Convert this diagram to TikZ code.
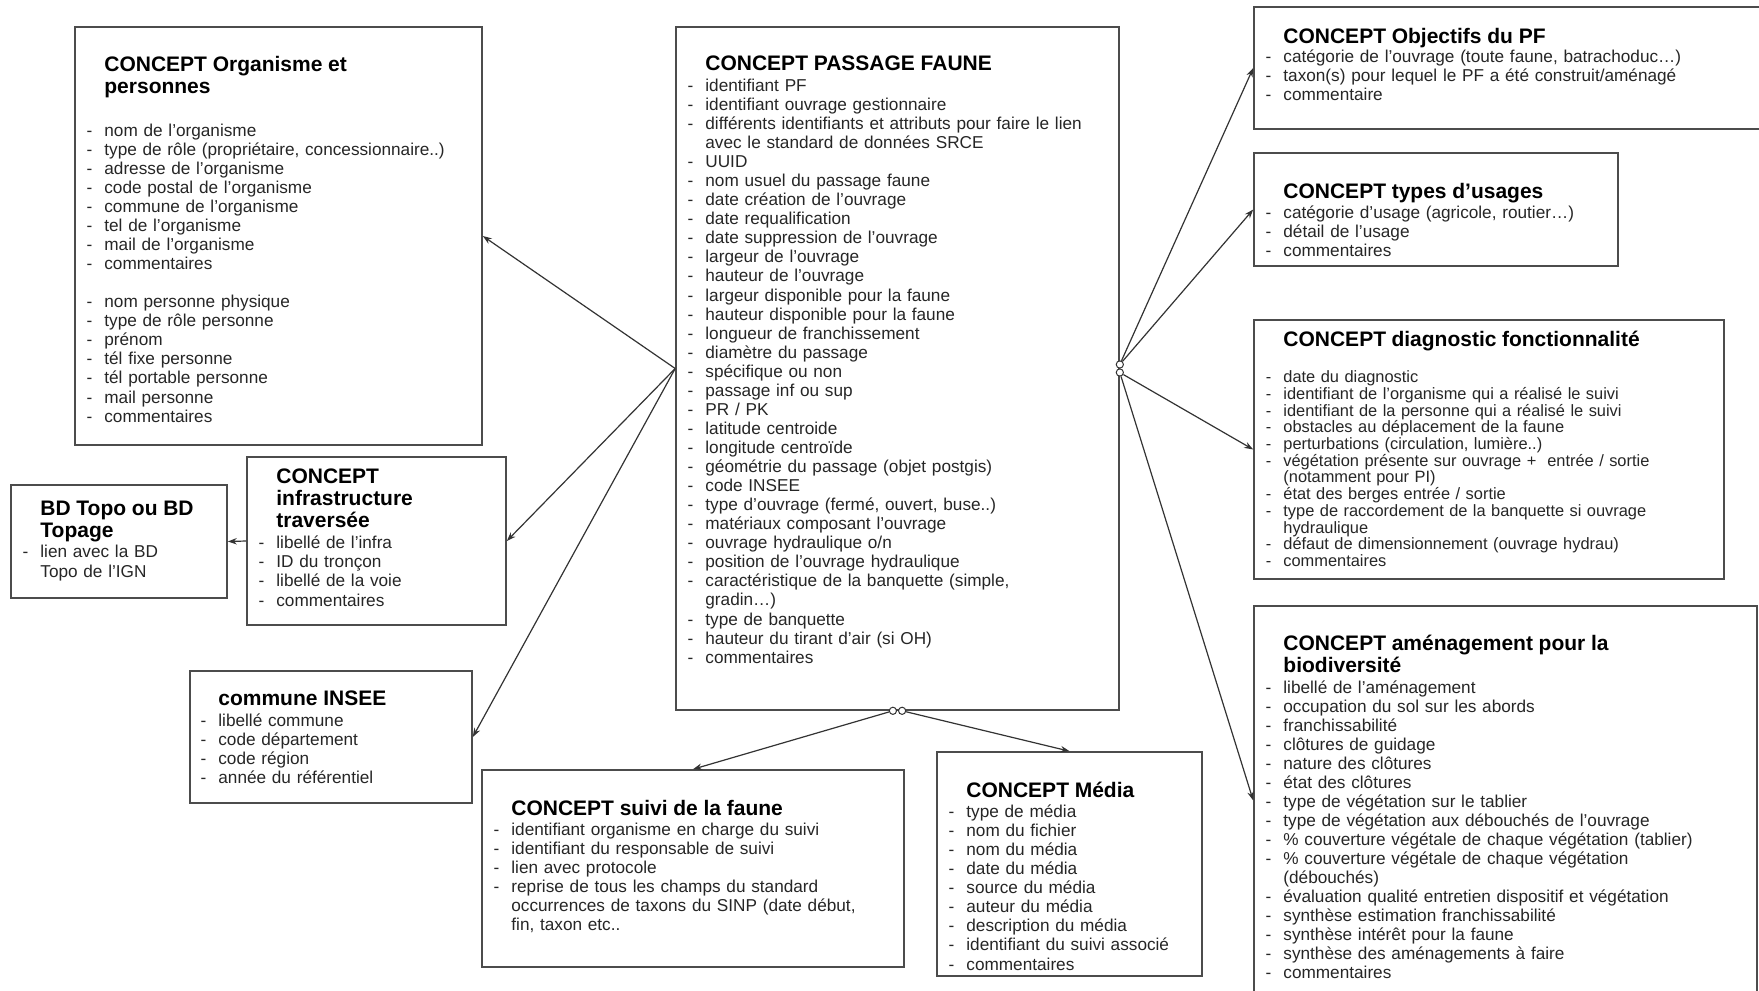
\documentclass[tikz,border=0pt]{standalone}
\usepackage{fontspec}
\setmainfont{Liberation Sans}
\usetikzlibrary{fit,arrows.meta}
\newcommand{\ttl}[2][0.5pt]{{\fontsize{10.5}{11.2}\selectfont\bfseries\color{black}#2\par}\vspace{#1}}
\newcommand{\li}[1]{\noindent\llap{-\hskip6pt}#1\par}
\newcommand{\linecolor}{black!80}
\tikzset{
  box/.style={draw=black!70, line width=0.8pt, inner sep=0pt},
  txt/.style={anchor=base west, inner sep=0pt, text width=320pt, align=left,
    font=\fontsize{8.6}{9.53}\selectfont, text=black!85},
  ring/.style={circle, draw=\linecolor, fill=white, line width=0.5pt, inner sep=0pt, minimum size=3.6pt},
  link/.style={draw=\linecolor, line width=0.6pt, -{Stealth[length=4.5pt,width=3.2pt]}}
}
\begin{document}
\begin{tikzpicture}[x=0.5pt, y=-0.5pt]
 \fill[white] (0,0) rectangle (1759,990);
 \useasboundingbox (0,0) rectangle (1759,990);

 \node[box, fit={(75,27) (482,445)}] (org) {};
 \node[box, fit={(247,457) (506,625)}] (infra) {};
 \node[box, fit={(11,485) (227,598)}] (bdtopo) {};
 \node[box, fit={(190,671) (472,803)}] (insee) {};
 \node[box, fit={(676,27) (1119,710)}] (pf) {};
 \node[box, fit={(482,770) (904,967)}] (suivi) {};
 \node[box, fit={(937,752) (1202,976)}] (media) {};
 \node[box, fit={(1254,7) (1780,129)}] (obj) {};
 \node[box, fit={(1254,153) (1618,266)}] (usages) {};
 \node[box, fit={(1254,320) (1724,579)}] (diag) {};
 \node[box, fit={(1254,606) (1757,995)}] (amenag) {};

 \node[txt] (org-t) at (104,71.5) {\ttl[11.6pt]{CONCEPT Organisme et\newline personnes}
   \li{nom de l’organisme}
   \li{type de rôle (propriétaire, concessionnaire..)}
   \li{adresse de l’organisme}
   \li{code postal de l’organisme}
   \li{commune de l’organisme}
   \li{tel de l’organisme}
   \li{mail de l’organisme}
   \li{commentaires}
   \vspace{9.53pt}
   \li{nom personne physique}
   \li{type de rôle personne}
   \li{prénom}
   \li{tél fixe personne}
   \li{tél portable personne}
   \li{mail personne}
   \li{commentaires}};
 \node[txt] (infra-t) at (276,483) {\ttl[1pt]{CONCEPT\newline infrastructure\newline traversée}
   \li{libellé de l’infra}
   \li{ID du tronçon}
   \li{libellé de la voie}
   \li{commentaires}};
 \node[txt] (bdtopo-t) at (40,515.5) {\ttl{BD Topo ou BD\newline Topage}
   \li{lien avec la BD\newline Topo de l’IGN}};
 \node[txt] (insee-t) at (218,705.5) {\ttl[1pt]{commune INSEE}
   \li{libellé commune}
   \li{code département}
   \li{code région}
   \li{année du référentiel}};
 \node[txt] (pf-t) at (705,70.3) {\ttl[1pt]{CONCEPT PASSAGE FAUNE}
   \li{identifiant PF}
   \li{identifiant ouvrage gestionnaire}
   \li{différents identifiants et attributs pour faire le lien\newline avec le standard de données SRCE}
   \li{UUID}
   \li{nom usuel du passage faune}
   \li{date création de l’ouvrage}
   \li{date requalification}
   \li{date suppression de l’ouvrage}
   \li{largeur de l’ouvrage}
   \li{hauteur de l’ouvrage}
   \li{largeur disponible pour la faune}
   \li{hauteur disponible pour la faune}
   \li{longueur de franchissement}
   \li{diamètre du passage}
   \li{spécifique ou non}
   \li{passage inf ou sup}
   \li{PR / PK}
   \li{latitude centroide}
   \li{longitude centroïde}
   \li{géométrie du passage (objet postgis)}
   \li{code INSEE}
   \li{type d’ouvrage (fermé, ouvert, buse..)}
   \li{matériaux composant l’ouvrage}
   \li{ouvrage hydraulique o/n}
   \li{position de l’ouvrage hydraulique}
   \li{caractéristique de la banquette (simple,\newline gradin…)}
   \li{type de banquette}
   \li{hauteur du tirant d’air (si OH)}
   \li{commentaires}};
 \node[txt] (suivi-t) at (511,815) {\ttl{CONCEPT suivi de la faune}
   \li{identifiant organisme en charge du suivi}
   \li{identifiant du responsable de suivi}
   \li{lien avec protocole}
   \li{reprise de tous les champs du standard\newline occurrences de taxons du SINP (date début,\newline fin, taxon etc..}};
 \node[txt] (media-t) at (966,797.5) {\ttl{CONCEPT Média}
   \li{type de média}
   \li{nom du fichier}
   \li{nom du média}
   \li{date du média}
   \li{source du média}
   \li{auteur du média}
   \li{description du média}
   \li{identifiant du suivi associé}
   \li{commentaires}};
 \node[txt] (obj-t) at (1283,43.4) {\ttl[0.2pt]{CONCEPT Objectifs du PF}
   \li{catégorie de l’ouvrage (toute faune, batrachoduc…)}
   \li{taxon(s) pour lequel le PF a été construit/aménagé}
   \li{commentaire}};
 \node[txt] (usages-t) at (1283,198) {\ttl{CONCEPT types d’usages}
   \li{catégorie d’usage (agricole, routier…)}
   \li{détail de l’usage}
   \li{commentaires}};
 \node[txt, font=\fontsize{8.2}{8.35}\selectfont] (diag-t) at (1283,346) {\ttl[10pt]{CONCEPT diagnostic fonctionnalité}
   \li{date du diagnostic}
   \li{identifiant de l’organisme qui a réalisé le suivi}
   \li{identifiant de la personne qui a réalisé le suivi}
   \li{obstacles au déplacement de la faune}
   \li{perturbations (circulation, lumière..)}
   \li{végétation présente sur ouvrage +\ \ entrée / sortie\newline (notamment pour PI)}
   \li{état des berges entrée / sortie}
   \li{type de raccordement de la banquette si ouvrage\newline hydraulique}
   \li{défaut de dimensionnement (ouvrage hydrau)}
   \li{commentaires}};
 \node[txt] (amenag-t) at (1283,650) {\ttl[0.8pt]{CONCEPT aménagement pour la\newline biodiversité}
   \li{libellé de l’aménagement}
   \li{occupation du sol sur les abords}
   \li{franchissabilité}
   \li{clôtures de guidage}
   \li{nature des clôtures}
   \li{état des clôtures}
   \li{type de végétation sur le tablier}
   \li{type de végétation aux débouchés de l’ouvrage}
   \li{\% couverture végétale de chaque végétation (tablier)}
   \li{\% couverture végétale de chaque végétation\newline (débouchés)}
   \li{évaluation qualité entretien dispositif et végétation}
   \li{synthèse estimation franchissabilité}
   \li{synthèse intérêt pour la faune}
   \li{synthèse des aménagements à faire}
   \li{commentaires}};

 \draw[link] (pf.west) -- (org.east);
 \draw[link] (pf.west) -- (infra.east);
 \draw[link] (pf.west) -- (insee.east);
 \draw[link] (infra.west) -- (bdtopo.east);
 \node[ring] (pf-s1) at ([xshift=-2.3pt]pf.south) {};
 \node[ring] (pf-s2) at ([xshift=2.3pt]pf.south) {};
 \node[ring] (pf-e1) at ([yshift=2pt]pf.east) {};
 \node[ring] (pf-e2) at ([yshift=-2pt]pf.east) {};
 \draw[link] (pf-s1) -- (suivi.north);
 \draw[link] (pf-s2) -- (media.north);
 \draw[link] (pf-e1) -- (obj.west);
 \draw[link] (pf-e1) -- (usages.west);
 \draw[link] (pf-e2) -- (diag.west);
 \draw[link] (pf-e2) -- (amenag.west);
\end{tikzpicture}
\end{document}
